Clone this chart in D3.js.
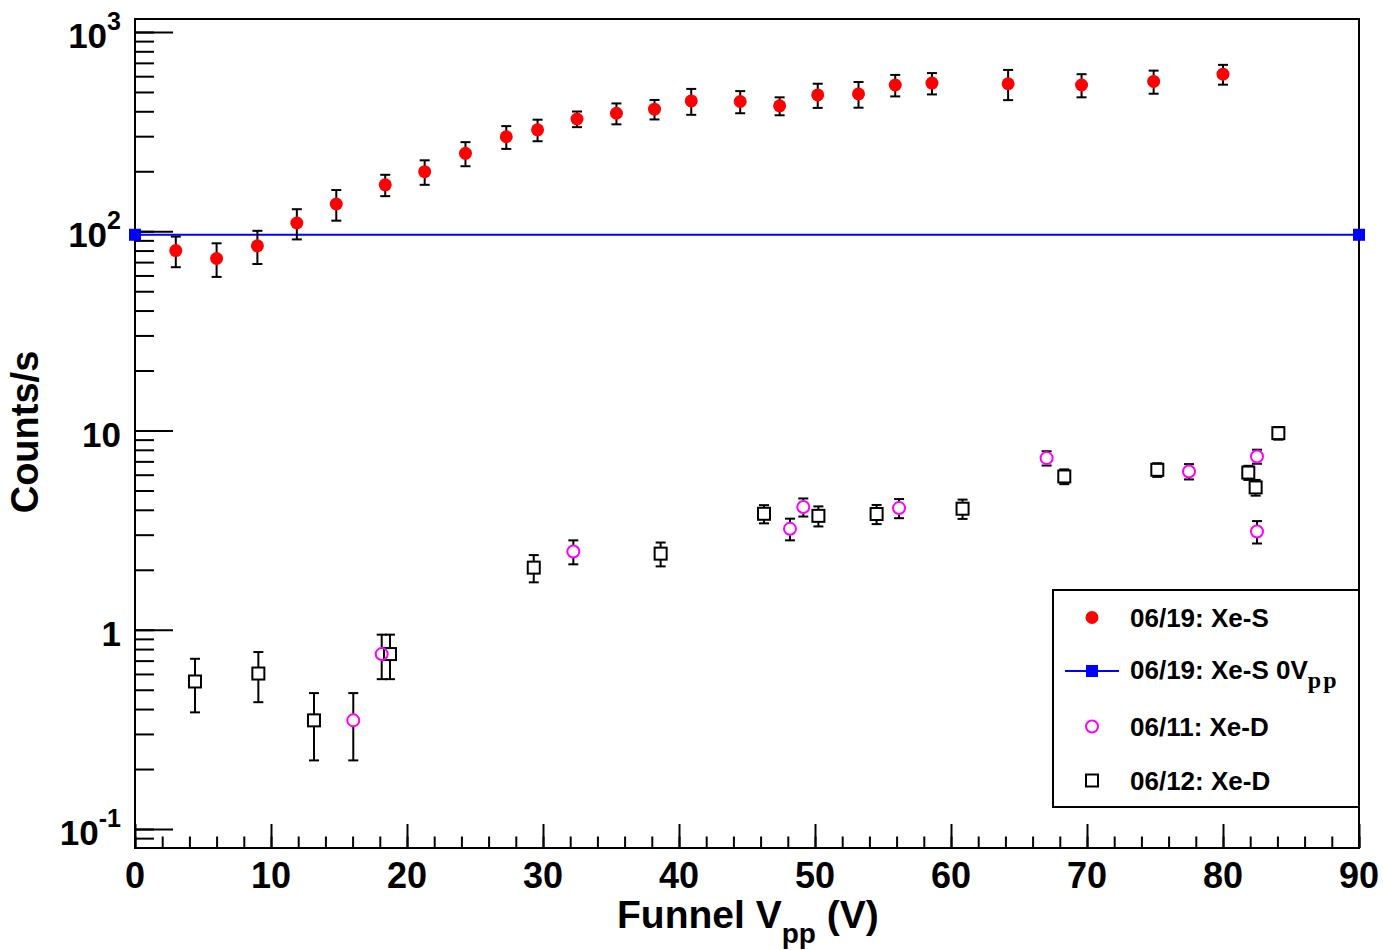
<!DOCTYPE html>
<html>
<head>
<meta charset="utf-8">
<script src="https://cdn.jsdelivr.net/npm/d3@7"></script>
<style>
  body { margin: 0; background: #fff; }
  svg { display: block; font-family: "Liberation Sans", Arial, sans-serif; font-weight: bold; }
</style>
</head>
<body>
<div id="chart"></div>
<script>
// 06/19: Xe-S
const xeSV    = [3.0, 6.0, 9.0, 11.9, 14.8, 18.4, 21.3, 24.3, 27.3, 29.6, 32.5, 35.4, 38.2, 40.9, 44.5, 47.4, 50.2, 53.2, 55.9, 58.6, 64.2, 69.6, 74.9, 80.0]
const xeSRate = [80, 73, 84.5, 110, 137, 171, 199, 246, 298, 323, 366, 391, 410, 451, 448, 426, 483, 489, 542, 554, 550, 542, 565, 614]
const xeSErr  = [14, 14, 16, 19, 24, 21, 28, 34, 39, 40, 33, 47, 46, 67, 57, 44, 67, 72, 67, 68, 95, 72, 75, 70]
// 06/19: Xe-S 0Vpp
const zeroV    = [0, 90]
const zeroRate = [96, 96]
// 06/11: Xe-D
const d11V    = [16.05, 18.14, 32.23, 48.16, 49.14, 56.18, 67.03, 77.5, 82.5, 82.5]
const d11Rate = [0.351, 0.755, 2.47, 3.21, 4.13, 4.08, 7.27, 6.23, 7.41, 3.11]
const d11Err  = [0.13, 0.19, 0.34, 0.40, 0.43, 0.45, 0.60, 0.55, 0.60, 0.40]
// 06/12: Xe-D
const d12V    = [4.41, 9.07, 13.16, 18.75, 29.32, 38.65, 46.25, 50.25, 54.53, 60.85, 68.33, 75.17, 81.86, 82.4, 84.07]
const d12Rate = [0.55, 0.603, 0.351, 0.755, 2.05, 2.41, 3.82, 3.73, 3.81, 4.05, 5.88, 6.35, 6.15, 5.18, 9.70]
const d12Err  = [0.165, 0.17, 0.13, 0.19, 0.32, 0.33, 0.40, 0.43, 0.42, 0.45, 0.50, 0.50, 0.50, 0.47, 0.70]

const xTicks = [0, 10, 20, 30, 40, 50, 60, 70, 80, 90]
const yTicks = [0.1, 1, 10, 100, 1000]
const yTickLabels = [['10', '-1'], ['1', ''], ['10', ''], ['10', '2'], ['10', '3']]
const legendLabels = ['06/19: Xe-S', '06/19: Xe-S 0V', '06/11: Xe-D', '06/12: Xe-D']

const W = 1383, H = 950
const pLeft = 135, pRight = 1359, pTop = 19, pBottom = 848

const svg = d3.select('#chart').append('svg')
              .attr('width', W)
              .attr('height', H)

const x = d3.scaleLinear().domain([0, 90]).range([pLeft, pRight])
const y = d3.scaleLog().domain([0.0803, 1162]).range([pBottom, pTop])

// minor / major ticks
const yMinor = []
for (let e = -2; e <= 3; e++) for (let m = 1; m <= 9; m++) {
  const v = m * Math.pow(10, e)
  if (v >= y.domain()[0] && v <= y.domain()[1]) yMinor.push(v)
}
const axisStyle = g => {
  g.select('.domain').remove()
  g.selectAll('line').attr('stroke', '#000').attr('stroke-width', 2)
}
svg.append('g').attr('transform', `translate(${pLeft},0)`)
   .call(d3.axisLeft(y).tickValues(yMinor).tickSize(-19).tickFormat(''))
   .call(axisStyle)
svg.append('g').attr('transform', `translate(${pLeft},0)`)
   .call(d3.axisLeft(y).tickValues(yTicks).tickSize(-38).tickFormat(''))
   .call(axisStyle)
svg.append('g').attr('transform', `translate(0,${pBottom})`)
   .call(d3.axisBottom(x).tickValues(d3.range(0, 91, 2)).tickSize(-11.5).tickFormat(''))
   .call(axisStyle)
svg.append('g').attr('transform', `translate(0,${pBottom})`)
   .call(d3.axisBottom(x).tickValues(xTicks).tickSize(-24).tickFormat(''))
   .call(axisStyle)

// frame
svg.append('rect')
   .attr('x', pLeft).attr('y', pTop)
   .attr('width', pRight - pLeft).attr('height', pBottom - pTop)
   .attr('fill', 'none').attr('stroke', '#000').attr('stroke-width', 2)

// tick labels
svg.append('g').selectAll('text').data(xTicks).join('text')
   .attr('x', d => x(d)).attr('y', 888)
   .attr('text-anchor', 'middle')
   .attr('font-size', 36)
   .text(d => d)

const yl = svg.append('g').selectAll('text').data(yTicks).join('text')
   .attr('x', 121).attr('y', d => y(d) + 16)
   .attr('text-anchor', 'end')
   .attr('font-size', 35)
yl.append('tspan').text((d, i) => yTickLabels[i][0])
yl.filter((d, i) => yTickLabels[i][1] !== '')
  .append('tspan').attr('font-size', 25).attr('dy', -18)
  .text(d => yTickLabels[yTicks.indexOf(d)][1])

// axis titles
const xt = svg.append('text').attr('x', 617).attr('y', 928).attr('font-size', 39)
xt.append('tspan').text('Funnel V')
xt.append('tspan').attr('font-size', 28).attr('dy', 15).text('pp')
xt.append('tspan').attr('dy', -15).text(' (V)')

svg.append('text')
   .attr('transform', 'translate(38,432) rotate(-90)')
   .attr('text-anchor', 'middle')
   .attr('font-size', 38)
   .text('Counts/s')

// error bars
function errorBars(vs, rs, es, gap) {
  const g = svg.append('g').attr('stroke', '#000').attr('stroke-width', 2)
  vs.forEach((v, i) => {
    const cx = x(v), cy = y(rs[i])
    const yt = y(rs[i] + es[i]), yb = y(Math.max(rs[i] - es[i], 1e-3))
    if (yt < cy - gap) g.append('line').attr('x1', cx).attr('x2', cx).attr('y1', yt).attr('y2', cy - gap)
    if (yb > cy + gap) g.append('line').attr('x1', cx).attr('x2', cx).attr('y1', cy + gap).attr('y2', yb)
    g.append('line').attr('x1', cx - 5).attr('x2', cx + 5).attr('y1', yt).attr('y2', yt)
    g.append('line').attr('x1', cx - 5).attr('x2', cx + 5).attr('y1', yb).attr('y2', yb)
  })
}

// blue 0Vpp line
svg.append('path')
   .datum(zeroV.map((v, i) => [v, zeroRate[i]]))
   .attr('d', d3.line().x(d => x(d[0])).y(d => y(d[1])))
   .attr('stroke', '#0000ff').attr('stroke-width', 2).attr('fill', 'none')
svg.append('g').selectAll('rect').data(zeroV).join('rect')
   .attr('x', d => x(d) - 6).attr('y', (d, i) => y(zeroRate[i]) - 6)
   .attr('width', 12).attr('height', 12).attr('fill', '#0000ff')

errorBars(xeSV, xeSRate, xeSErr, 0)
svg.append('g').selectAll('circle').data(xeSV).join('circle')
   .attr('cx', d => x(d)).attr('cy', (d, i) => y(xeSRate[i]))
   .attr('r', 6.5).attr('fill', '#ff0000')

errorBars(d12V, d12Rate, d12Err, 6.5)
svg.append('g').selectAll('rect').data(d12V).join('rect')
   .attr('x', d => x(d) - 6).attr('y', (d, i) => y(d12Rate[i]) - 6)
   .attr('width', 12).attr('height', 12)
   .attr('fill', 'none').attr('stroke', '#000').attr('stroke-width', 2)

errorBars(d11V, d11Rate, d11Err, 6.5)
svg.append('g').selectAll('circle').data(d11V).join('circle')
   .attr('cx', d => x(d)).attr('cy', (d, i) => y(d11Rate[i]))
   .attr('r', 6).attr('fill', 'none').attr('stroke', '#ff00ff').attr('stroke-width', 2)

// legend
const lg = svg.append('g')
lg.append('rect').attr('x', 1053).attr('y', 590).attr('width', 306).attr('height', 217)
  .attr('fill', '#fff').attr('stroke', '#000').attr('stroke-width', 2)
const rowY = [617.5, 669, 726.5, 780.5]
const sx = 1092
lg.append('circle').attr('cx', sx).attr('cy', rowY[0]).attr('r', 6.5).attr('fill', '#ff0000')
lg.append('line').attr('x1', 1065).attr('x2', 1119).attr('y1', rowY[1] + 2).attr('y2', rowY[1] + 2)
  .attr('stroke', '#0000ff').attr('stroke-width', 2)
lg.append('rect').attr('x', sx - 6).attr('y', rowY[1] - 4).attr('width', 12).attr('height', 12).attr('fill', '#0000ff')
lg.append('circle').attr('cx', sx).attr('cy', rowY[2]).attr('r', 6)
  .attr('fill', 'none').attr('stroke', '#ff00ff').attr('stroke-width', 2)
lg.append('rect').attr('x', sx - 6).attr('y', rowY[3] - 6).attr('width', 12).attr('height', 12)
  .attr('fill', 'none').attr('stroke', '#000').attr('stroke-width', 2)

const lt = lg.selectAll('text.lab').data(legendLabels).join('text')
  .attr('class', 'lab')
  .attr('x', 1130).attr('y', (d, i) => rowY[i] + 9.5)
  .attr('font-size', 26)
lt.append('tspan').text(d => d)
lt.filter((d, i) => i === 1).append('tspan')
  .attr('font-family', '"Liberation Serif", serif')
  .attr('font-size', 24).attr('letter-spacing', 2).attr('dy', 9).text('pp')
</script>
</body>
</html>
